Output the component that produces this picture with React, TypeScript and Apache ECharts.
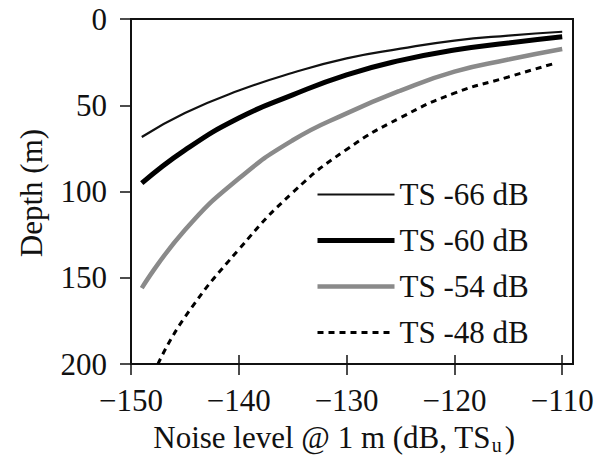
import React, { useEffect, useRef } from "react";
import * as echarts from "echarts";

const xTickValues = [-150, -140, -130, -120, -110];
const yTickValues = [0, 50, 100, 150, 200];

const noiseLevels = [-149, -145, -140, -135, -130, -125, -120, -115, -110];
const ts66 = [68.4, 54.5, 41.5, 31.2, 22.8, 17.2, 12.5, 9.6, 7.4];
const ts60 = [95.2, 76, 57.4, 44, 32.4, 24, 18, 13.9, 10.3];
const ts54 = [156, 122.3, 92.5, 70.3, 54.7, 41.5, 30.5, 23.5, 17.4];
const noiseLevels48 = [-147.5, -145, -140, -135, -130, -125, -120, -115, -110.7];
const ts48 = [200, 172.8, 133.6, 100.6, 75.6, 57.2, 43, 33.6, 25.7];

const seriesNames = ["TS -66 dB", "TS -60 dB", "TS -54 dB", "TS -48 dB"];

const FONT = "'Liberation Serif', 'Times New Roman', serif";
const TXT = "#111";
const FS = 31;

const styles = [
  { color: "#111", width: 2.2 },
  { color: "#000", width: 5 },
  { color: "#8a8a8a", width: 4.5 },
  { color: "#000", width: 3, type: [6, 5] },
];

function pairs(xs: number[], ys: number[]) {
  return xs.map((x, i) => [x, ys[i]]);
}

export default function App() {
  const ref = useRef<HTMLDivElement>(null);
  useEffect(() => {
    if (!ref.current) return;
    const chart = echarts.init(ref.current, null, { renderer: "svg" });
    const fmtX = (v: number) => (v < 0 ? "\u2212" + Math.abs(v) : String(v));
    const lineSeries = (i: number, xs: number[], ys: number[]) => ({
      name: seriesNames[i],
      type: "line",
      smooth: true,
      showSymbol: false,
      symbol: "none",
      data: pairs(xs, ys),
      lineStyle: styles[i],
      itemStyle: { color: styles[i].color },
    });
    chart.setOption({
      animation: false,
      backgroundColor: "#fff",
      grid: {
        left: 131,
        top: 19,
        right: 24,
        bottom: 103,
        show: true,
        borderColor: "#111",
        borderWidth: 2,
        backgroundColor: "transparent",
      },
      legend: {
        orient: "vertical",
        left: 310,
        top: 174,
        itemWidth: 77,
        itemHeight: 2,
        itemGap: 15,
        itemStyle: { opacity: 0 },
        data: seriesNames.map((n, i) => ({ name: n, lineStyle: { ...styles[i] } })),
        textStyle: {
          fontFamily: FONT,
          fontSize: FS,
          color: TXT,
          lineHeight: 31,
        },
      },
      xAxis: [
        {
          type: "value",
          min: -150,
          max: -109,
          position: "bottom",
          splitLine: { show: false },
          axisLine: { show: true, onZero: false, lineStyle: { color: "#111", width: 2 } },
          axisTick: {
            show: true,
            inside: false,
            length: 11,
            customValues: xTickValues,
            lineStyle: { color: "#111", width: 1.5 },
          },
          axisLabel: {
            customValues: xTickValues,
            formatter: fmtX,
            fontFamily: FONT,
            fontSize: FS,
            color: TXT,
            margin: 21,
          },
        },
        {
          type: "value",
          min: -150,
          max: -109,
          position: "bottom",
          splitLine: { show: false },
          axisLine: { show: false, onZero: false },
          axisTick: {
            show: true,
            inside: true,
            length: 9,
            customValues: xTickValues,
            lineStyle: { color: "#111", width: 1.5 },
          },
          axisLabel: { show: false },
        },
      ],
      yAxis: {
        type: "value",
        inverse: true,
        min: 0,
        max: 200,
        interval: 50,
        splitLine: { show: false },
        axisLine: { show: true, onZero: false, lineStyle: { color: "#111", width: 2 } },
        axisTick: {
          show: true,
          inside: false,
          length: 11,
          customValues: yTickValues,
          lineStyle: { color: "#111", width: 1.5 },
        },
        axisLabel: {
          customValues: yTickValues,
          fontFamily: FONT,
          fontSize: FS,
          color: TXT,
          margin: 24,
        },
      },
      graphic: [
        {
          type: "text",
          x: 31,
          y: 193,
          rotation: Math.PI / 2,
          style: {
            text: "Depth (m)",
            font: `${FS}px ${FONT}`,
            fill: TXT,
            align: "center",
            verticalAlign: "middle",
          },
        },
        {
          type: "text",
          x: 334,
          y: 437,
          style: {
            text: "{a|Noise level @ 1 m (dB, TS}{s|u}{a|)}",
            rich: {
              a: { fontSize: FS, fontFamily: FONT, fill: TXT, lineHeight: 32 },
              s: { fontSize: 20, fontFamily: FONT, fill: TXT, padding: [15, 3, 0, 1], lineHeight: 32 },
            },
            align: "center",
            verticalAlign: "middle",
          },
        },
      ],
      series: [
        lineSeries(0, noiseLevels, ts66),
        lineSeries(1, noiseLevels, ts60),
        lineSeries(2, noiseLevels, ts54),
        lineSeries(3, noiseLevels48, ts48),
      ],
    });
    return () => chart.dispose();
  }, []);
  return <div ref={ref} style={{ width: 597, height: 467, position: "absolute", left: 0, top: 0 }} />;
}
